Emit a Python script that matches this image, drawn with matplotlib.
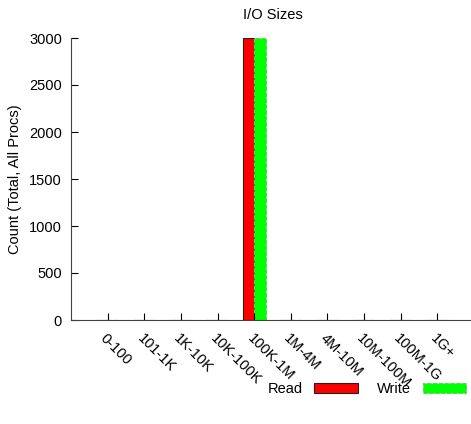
import matplotlib.pyplot as plt
import numpy as np

plt.rcParams['font.family'] = ['Liberation Sans', 'DejaVu Sans']

categories = ["0-100", "101-1K", "1K-10K", "10K-100K", "100K-1M",
              "1M-4M", "4M-10M", "10M-100M", "100M-1G", "1G+"]
read_counts = [0, 0, 0, 0, 3000, 0, 0, 0, 0, 0]
write_counts = [0, 0, 0, 0, 3000, 0, 0, 0, 0, 0]
yticks = [0, 500, 1000, 1500, 2000, 2500, 3000]

W, H = 471, 424
fig = plt.figure(figsize=(W / 100, H / 100), dpi=100)
ax = fig.add_axes([71 / W, 1 - 320 / H, (474 - 71) / W, (320 - 38) / H])

x = np.arange(len(categories))
bw = 0.31
ax.bar(x - bw / 2, read_counts, bw, color='#ff0000', edgecolor='#222222',
       linewidth=0.8, label='Read')
ax.bar(x + bw / 2, write_counts, bw, color='#00ff00', edgecolor='#66cc66',
       linewidth=0.8, linestyle='--', label='Write')

ax.set_xlim(-1, 10)
ax.set_ylim(0, 3000)
ax.set_xticks(x)
ax.set_xticklabels(categories, rotation=-45, ha='left', va='top',
                   rotation_mode='anchor', fontsize=10.5)
ax.set_yticks(yticks)
ax.tick_params(axis='y', labelsize=10.5, direction='in', length=5, pad=6.5)
ax.tick_params(axis='x', direction='in', length=5, pad=8)
for s in ['top', 'right']:
    ax.spines[s].set_visible(False)
for s in ['left', 'bottom']:
    ax.spines[s].set_color('#444444')
    ax.spines[s].set_linewidth(0.8)

ax.set_ylabel("Count (Total, All Procs)", fontsize=10.5)
ax.yaxis.set_label_coords(-0.122, 0.5)
ax.set_title("I/O Sizes", fontsize=10.5, pad=14)

leg = fig.legend(loc='center', bbox_to_anchor=(367 / W, 1 - 389 / H), ncol=2,
                 frameon=False, fontsize=10.5, markerfirst=False,
                 handlelength=3.0, handleheight=0.7, columnspacing=1.3,
                 handletextpad=0.8)

fig.savefig("out.png", dpi=100)
